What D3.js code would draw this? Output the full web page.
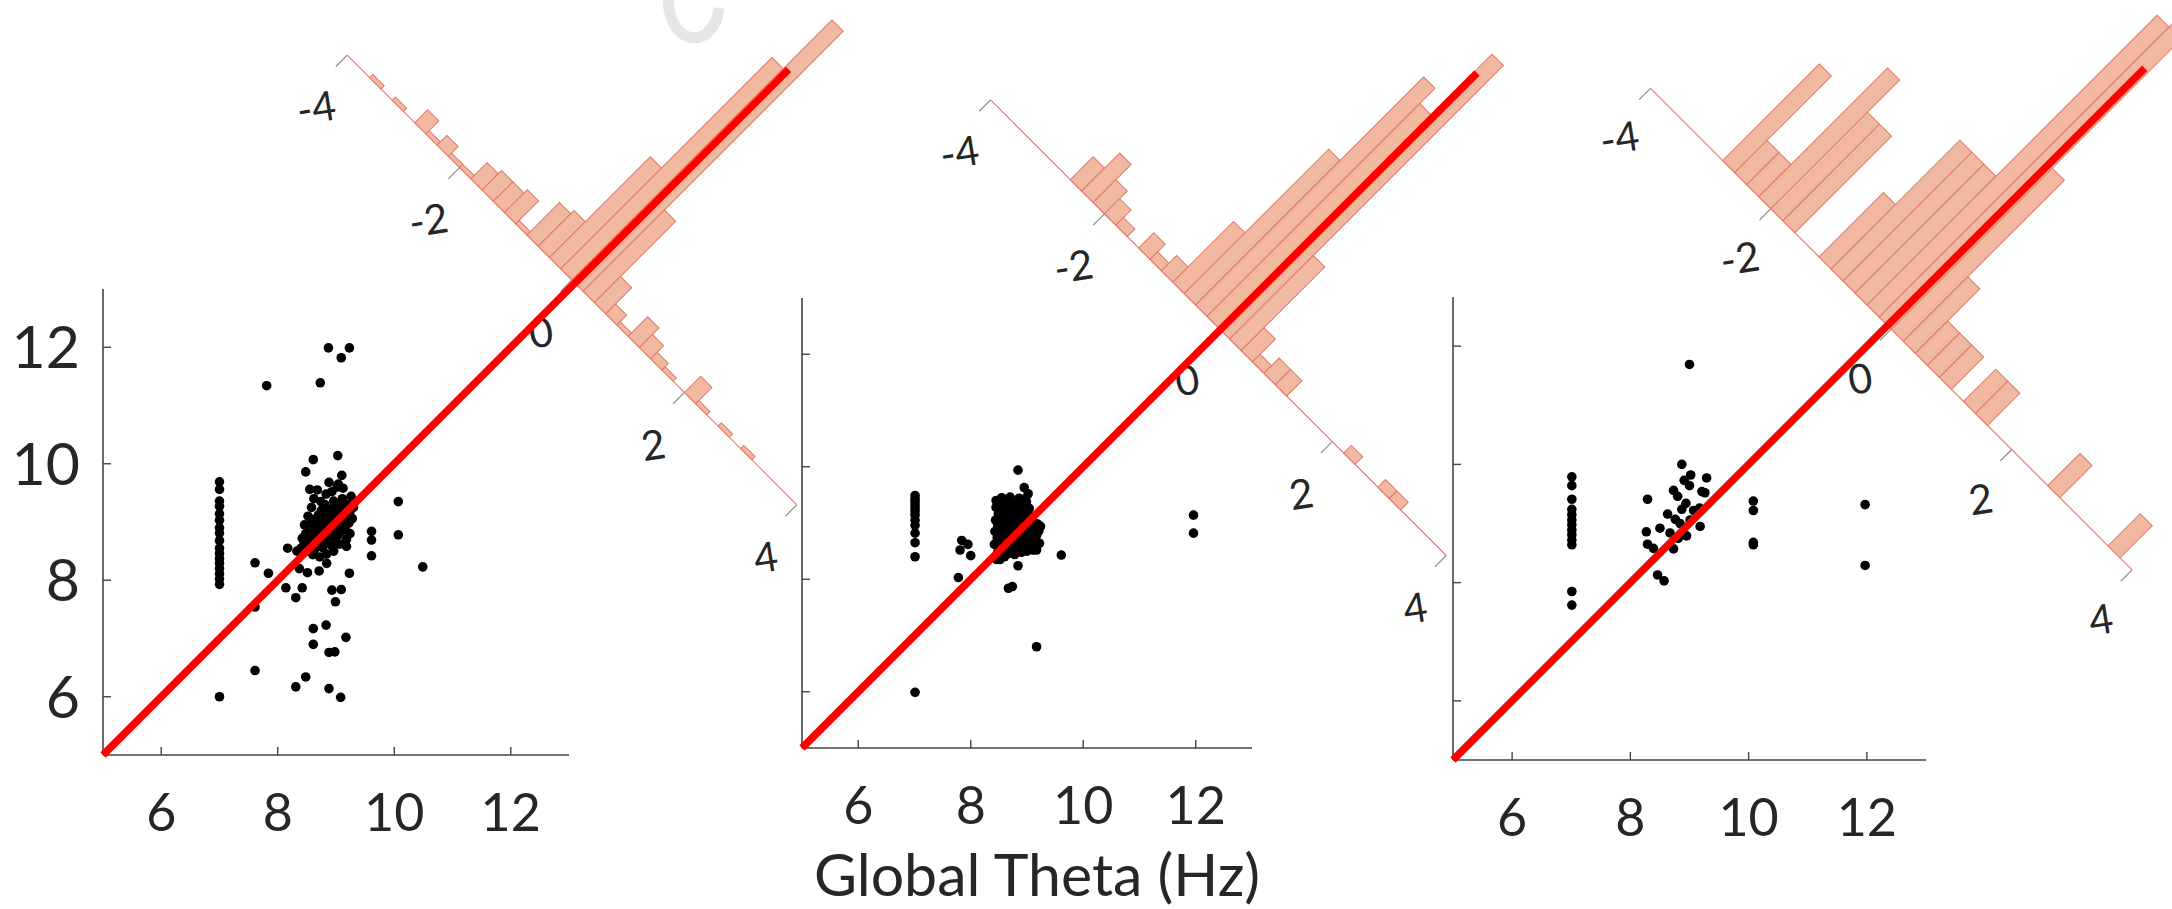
<!DOCTYPE html>
<html><head><meta charset="utf-8">
<script src="https://cdn.jsdelivr.net/npm/d3@7"></script>
<style>
body{margin:0;background:#fff;}
svg{display:block;}
text{font-family:Lato,"Open Sans",sans-serif;fill:#262626;}
</style>
</head><body>
<svg id="chart" width="2172" height="909"></svg>
<script>
// ---------------- DATA ----------------
const xTickValues = [6, 8, 10, 12];
const yTickValues = [6, 8, 10, 12];
const histTickValues = [-4, -2, 0, 2, 4];
const histTickLabels = ["-4", "-2", "0", "2", "4"];
const axisTitle = "Global Theta (Hz)";
const binStarts = [-4.0,-3.8,-3.6,-3.4,-3.2,-3.0,-2.8,-2.6,-2.4,-2.2,-2.0,-1.8,-1.6,-1.4,-1.2,-1.0,-0.8,-0.6,-0.4,-0.2,
                   0.0,0.2,0.4,0.6,0.8,1.0,1.2,1.4,1.6,1.8,2.0,2.2,2.4,2.6,2.8,3.0,3.2,3.4,3.6,3.8];
const binWidth = 0.2;

const counts1 = [0,0,1,0,1,0,4,1,3,1,1,5,6,6,7,1,10,11,31,65,80,25,8,3,1,6,4,2,1,0,5,1,0,1,0,1,0,0,0,0];
const counts2 = [0,0,0,0,0,0,0,3,5,3,2,1,0,2,1,2,8,19,30,28,36,11,3,1,2,2,0,0,0,0,0,1,0,0,1,1,0,0,0,0];
const counts3 = [0,0,0,0,0,0,3,1,1,4,3,3,0,0,2,4,4,4,9,10,5,2,1,1,1,0,1,1,0,0,0,0,0,1,0,0,0,0,1,0];

const diag1 = [5, 16.77];
const diag2 = [5, 17.0];
const diag3 = [5, 16.7];

const scatter1 = [
 // column at 7 Hz
 [7,9.69],[7,9.56],[7,9.36],[7,9.27],[7,9.14],[7,9.03],[7,8.90],[7,8.81],[7,8.68],[7,8.55],[7,8.46],[7,8.37],[7,8.29],
 [7,8.20],[7,8.11],[7,8.02],[7,7.93],[7,6.0],
 // scattered
 [8.87,11.99],[9.23,11.99],[9.09,11.82],[7.81,11.34],[8.73,11.39],[8.61,10.07],[9.03,10.14],[8.48,9.86],[9.10,9.80],[9.04,9.65],
 [8.55,9.56],[10.07,9.35],[10.07,8.78],[9.61,8.84],[9.61,8.69],[9.61,8.42],[10.49,8.23],[8.17,8.55],[7.61,8.30],[7.84,8.12],
 [8.37,8.20],[8.51,8.13],[8.71,8.16],[8.84,8.29],[9.18,8.58],[9.23,8.12],[8.14,7.87],[8.42,7.87],[8.31,7.70],[8.93,7.83],
 [9.09,7.84],[8.99,7.63],[7.61,7.54],[8.61,7.17],[8.83,7.23],[9.17,7.02],[8.61,6.90],[8.88,6.76],[8.98,6.77],[7.61,6.45],
 [8.48,6.34],[8.31,6.17],[8.88,6.14],[9.08,5.99],
 // dense cluster
 [8.40,8.55],[8.42,8.72],[8.45,8.62],[8.48,8.80],[8.50,8.50],[8.52,8.68],[8.53,8.90],[8.55,8.58],[8.57,8.76],[8.58,8.98],
 [8.60,8.64],[8.61,8.84],[8.63,8.52],[8.64,9.05],[8.66,8.72],[8.67,8.92],[8.69,8.60],[8.70,9.12],[8.71,8.80],[8.72,8.98],
 [8.74,8.68],[8.75,9.20],[8.76,8.88],[8.77,8.56],[8.79,9.04],[8.80,8.76],[8.81,9.30],[8.82,8.94],[8.84,8.66],[8.85,9.12],
 [8.86,8.84],[8.87,9.00],[8.89,8.72],[8.90,9.22],[8.91,8.92],[8.92,8.60],[8.94,9.08],[8.95,8.82],[8.96,9.36],[8.97,8.98],
 [8.99,8.70],[9.00,9.16],[9.01,8.90],[9.03,9.02],[9.04,8.78],[9.05,9.28],[9.07,8.95],[9.08,9.10],[9.10,8.84],[9.11,9.40],
 [9.13,9.00],[9.14,9.20],[9.16,8.88],[9.18,9.08],[9.20,9.30],[9.22,8.98],[9.24,9.18],[9.26,9.44],[9.28,9.06],[9.30,9.25],
 [8.46,8.95],[8.52,9.10],[8.58,9.25],[8.62,9.40],[8.68,9.55],[8.74,9.35],[8.83,9.48],[8.93,9.52],[9.02,9.60],[9.12,9.58],
 [8.88,9.68],[8.60,8.44],[8.72,8.40],[8.84,8.45],[8.96,8.50],[9.06,8.62],[9.18,8.70],[9.24,8.80],[8.78,8.90],[8.83,8.98],
 [8.88,9.06],[8.93,9.14],[8.73,8.86],[8.98,9.24],[8.69,8.82],[8.86,8.94],[8.80,9.10],[8.90,8.80],[8.33,8.50]
];

const scatter2 = [
 [7.01,9.49],[7.01,9.43],[7.01,9.38],[7.01,9.32],[7.01,9.26],[7.01,9.20],[7.01,9.14],[7.01,9.05],[7.01,8.96],[7.01,8.82],
 [7.01,8.65],[7.01,8.40],[7.01,5.99],
 [8.84,9.94],[8.95,9.63],[9.02,9.52],[7.84,8.69],[7.95,8.62],[7.81,8.52],[8.00,8.42],[7.78,8.03],[8.84,8.24],[8.67,7.84],
 [8.74,7.87],[9.61,8.43],[9.17,6.80],[11.96,9.14],[11.96,8.82],[8.46,8.35],[8.52,8.35],[9.11,8.52],[9.17,8.52],[8.60,8.40],
 [8.42,8.62],[8.43,8.85],[8.44,9.05],[8.45,9.28],[8.47,8.74],[8.48,8.96],[8.49,9.16],[8.50,9.38],[8.52,8.55],[8.53,8.82],
 [8.54,9.02],[8.55,9.22],[8.57,8.68],[8.58,8.90],[8.59,9.10],[8.60,9.32],[8.62,8.58],[8.63,8.78],[8.64,8.98],[8.65,9.18],
 [8.66,9.40],[8.68,8.66],[8.69,8.86],[8.70,9.06],[8.71,9.26],[8.73,8.52],[8.74,8.72],[8.75,8.94],[8.76,9.12],[8.77,9.34],
 [8.79,8.62],[8.80,8.82],[8.81,9.02],[8.82,9.22],[8.84,8.50],[8.85,8.70],[8.86,8.90],[8.87,9.10],[8.88,9.30],[8.90,8.60],
 [8.91,8.80],[8.92,9.00],[8.93,9.20],[8.95,8.56],[8.96,8.76],[8.97,8.96],[8.98,9.16],[8.99,9.38],[9.01,8.66],[9.02,8.86],
 [9.03,9.06],[9.04,9.26],[9.06,8.72],[9.07,8.92],[9.08,9.12],[9.10,8.58],[9.11,8.82],[9.12,9.02],[9.14,8.68],[9.15,8.90],
 [9.17,8.78],[9.19,8.98],[9.21,8.86],[9.22,8.64],[9.24,8.94],[8.56,8.48],[8.68,8.46],[8.78,8.44],[8.90,8.48],[9.00,8.50],
 [8.48,8.48],[8.55,9.45],[8.70,9.46],[8.86,9.44],[8.94,9.42],[8.45,9.40],[8.72,8.98],[8.78,9.04],[8.84,9.08],[8.66,8.88],
 [8.90,9.14],[8.82,8.86],[8.76,8.80],[8.94,8.96],[8.62,8.92],[8.68,9.12]
];

const scatter3 = [
 [7.01,9.79],[7.01,9.64],[7.01,9.41],[7.01,9.24],[7.01,9.15],[7.01,9.06],[7.01,8.98],[7.01,8.89],[7.01,8.81],[7.01,8.72],
 [7.01,8.64],[7.01,7.85],[7.01,7.62],
 [9.00,11.69],[8.87,10.00],[9.02,9.82],[9.29,9.77],[8.91,9.73],[9.00,9.64],[8.73,9.56],[9.21,9.54],[9.26,9.52],[8.80,9.46],
 [8.29,9.41],[8.94,9.34],[8.87,9.24],[9.07,9.22],[8.63,9.16],[9.17,9.26],[8.76,9.07],[8.50,8.92],[8.84,9.00],[9.01,9.06],
 [9.18,8.95],[8.67,8.84],[8.27,8.86],[8.81,8.75],[8.95,8.79],[8.29,8.65],[8.39,8.58],[8.73,8.57],[8.46,8.13],[8.57,8.03],
 [10.08,9.38],[10.08,9.22],[10.08,8.68],[10.08,8.64],[11.97,9.32],[11.97,8.29]
];

// ---------------- LAYOUT ----------------
const panels = [
  {px:[103,569], py:[755,289], yMax:13, yLabels:true, data:scatter1, diag:diag1, counts:counts1,
   hist:{cx:572, cy:280, s:56.2, unit:3.25, lab:[15,59]}},
  {px:[802,1252], py:[748,298], yMax:13, yLabels:false, data:scatter2, diag:diag2, counts:counts2,
   hist:{cx:1218.4, cy:327.7, s:56.95, unit:7.6, lab:[15,59]}},
  {px:[1453,1926], py:[760,287], yMax:12.83, yLabels:false, data:scatter3, diag:diag3, counts:counts3,
   hist:{cx:1891.3, cy:329.1, s:60.2, unit:32.2, lab:[13,57]}}
];

const svg = d3.select("#chart");
svg.append("rect").attr("width",2172).attr("height",909).attr("fill","#fff");

// faint watermark fragment at top
svg.append("path").attr("d","M 668 0 C 670 48, 714 50, 719 8")
  .attr("fill","none").attr("stroke","#e6e6e6").attr("stroke-width",11);

const SQ2 = Math.SQRT2;

panels.forEach((p, i) => {
  const x = d3.scaleLinear().domain([5,13]).range(p.px);
  const y = d3.scaleLinear().domain([5,13]).range(p.py);
  const g = svg.append("g");

  // histogram (rotated frame)
  const h = p.hist;
  const hs = d3.scaleLinear().domain([-4,4]).range([-4*h.s*SQ2, 4*h.s*SQ2]);
  const cs = d3.scaleLinear().domain([0,1]).range([0, h.unit*SQ2]);
  const hg = svg.append("g").attr("transform",`translate(${h.cx},${h.cy}) rotate(45)`);

  hg.append("line").attr("x1",hs(-4)).attr("x2",hs(4)).attr("y1",0).attr("y2",0)
    .attr("stroke","#d9837a").attr("stroke-width",1.2);
  hg.selectAll("line.ht").data(histTickValues).join("line").attr("class","ht")
    .attr("x1",d=>hs(d)).attr("x2",d=>hs(d)).attr("y1",0).attr("y2",16)
    .attr("stroke","#8c8c8c").attr("stroke-width",1.2);

  const bins = binStarts.map((b,k)=>({b, c:p.counts[k]})).filter(d=>d.c>0);
  hg.selectAll("rect.bar").data(bins).join("rect").attr("class","bar")
    .attr("x",d=>hs(d.b)).attr("width",d=>hs(d.b+binWidth)-hs(d.b))
    .attr("y",d=>-cs(d.c)).attr("height",d=>cs(d.c))
    .attr("fill","#f0b9a0").attr("stroke","#e2786a").attr("stroke-width",1);

  hg.selectAll("text.hl").data(histTickValues).join("text").attr("class","hl")
    .attr("transform",d=>`translate(${hs(d)+h.lab[0]},${h.lab[1]}) rotate(-54)`)
    .attr("text-anchor","middle").attr("dy","0.36em")
    .attr("font-size",41)
    .text((d,k)=>histTickLabels[k]);

  // axes
  const axisCol = "#444";
  g.append("line").attr("x1",x(5)).attr("x2",x(13)).attr("y1",y(5)).attr("y2",y(5))
    .attr("stroke",axisCol).attr("stroke-width",1.6);
  g.append("line").attr("x1",x(5)).attr("x2",x(5)).attr("y1",y(5)).attr("y2",y(p.yMax))
    .attr("stroke",axisCol).attr("stroke-width",1.6);
  g.selectAll("line.xt").data(xTickValues).join("line").attr("class","xt")
    .attr("x1",d=>x(d)).attr("x2",d=>x(d)).attr("y1",y(5)).attr("y2",y(5)-8)
    .attr("stroke",axisCol).attr("stroke-width",1.4);
  g.selectAll("line.yt").data(yTickValues).join("line").attr("class","yt")
    .attr("x1",x(5)).attr("x2",x(5)+8).attr("y1",d=>y(d)).attr("y2",d=>y(d))
    .attr("stroke",axisCol).attr("stroke-width",1.4);
  g.selectAll("text.xl").data(xTickValues).join("text").attr("class","xl")
    .attr("x",d=>x(d)).attr("y",y(5)+57).attr("dy","0.36em")
    .attr("text-anchor","middle").attr("font-size",52).text(d=>d);
  if (p.yLabels) {
    g.selectAll("text.yl").data(yTickValues).join("text").attr("class","yl")
      .attr("x",80).attr("y",d=>y(d)).attr("dy","0.36em")
      .attr("text-anchor","end").attr("font-size",59).text(d=>d);
  }

  // points
  g.selectAll("circle").data(p.data).join("circle")
    .attr("cx",d=>x(d[0])).attr("cy",d=>y(d[1])).attr("r",4.8).attr("fill","#000");

  // diagonal
  svg.append("line")
    .attr("x1",x(p.diag[0])).attr("y1",y(p.diag[0]))
    .attr("x2",x(p.diag[1])).attr("y2",y(p.diag[1]))
    .attr("stroke","#ff0000").attr("stroke-width",7.5);
});

svg.append("text").attr("x",1037).attr("y",896).attr("text-anchor","middle")
  .attr("font-size",59).text(axisTitle);
</script>
</body></html>
